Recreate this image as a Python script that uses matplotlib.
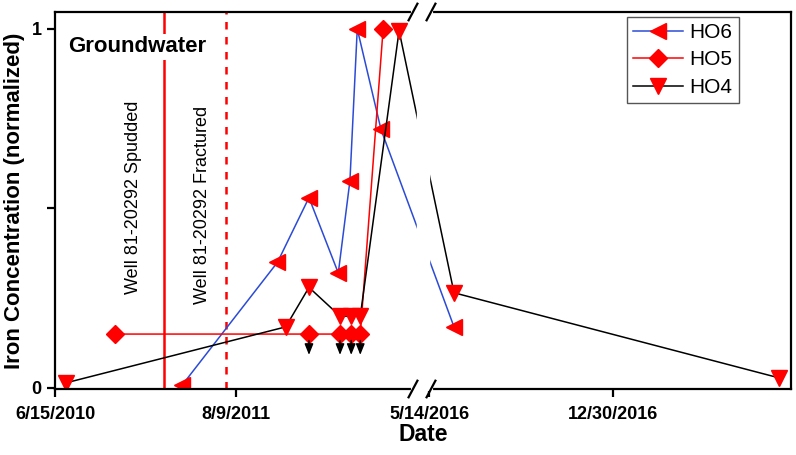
import numpy as np
import matplotlib
matplotlib.use('Agg')
import matplotlib.pyplot as plt
import matplotlib.dates as mdates
from matplotlib.ticker import FixedLocator, FixedFormatter

plt.rcParams['font.family'] = ['Liberation Sans', 'DejaVu Sans']

#%%
#------ Datos --------------------------
ho6_dates = ['2011-04-06', '2011-11-13', '2012-01-25', '2012-04-02', '2012-04-29',
             '2012-05-16', '2012-07-10', '2016-06-14']
ho6_vals  = [0.008, 0.35, 0.53, 0.32, 0.577, 1.0, 0.72, 0.17]

ho5_dates = ['2010-11-01', '2012-01-25', '2012-04-06', '2012-05-02', '2012-05-23', '2012-07-15']
ho5_vals  = [0.15, 0.15, 0.15, 0.15, 0.15, 1.0]
ho5_below = [False, True, True, True, True, False]   # bajo limite de deteccion

ho4_dates = ['2010-07-10', '2011-12-02', '2012-01-25', '2012-04-06', '2012-05-02',
             '2012-05-23', '2012-08-21', '2016-06-14', '2017-07-25']
ho4_vals  = [0.014, 0.17, 0.28, 0.20, 0.20, 0.20, 0.995, 0.265, 0.028]

spud_date = '2011-02-23'
frac_date = '2011-07-17'

tick_dates  = ['2010-06-15', '2011-08-09', '2016-05-14', '2016-12-30']
tick_labels = ['6/15/2010', '8/9/2011', '5/14/2016', '12/30/2016']

#%%
#------ Escala con corte en el eje x -------
def dnum(s):
    return mdates.date2num(np.datetime64(s))

x_start = dnum('2010-06-15')
x_end   = dnum('2017-08-09')
l_end   = dnum('2012-10-02')
r_start = dnum('2016-05-14')
s1 = 181 / 420
s2 = 184 / 230

kx = np.array([x_start - 5000, l_end, r_start, r_start + 5000])
ky = np.zeros(4)
ky[1] = 55 + (l_end - x_start) * s1
ky[0] = ky[1] - (l_end - kx[0]) * s1
ky[2] = ky[1] + 12
ky[3] = ky[2] + 5000 * s2

def fwd(x):
    return np.interp(x, kx, ky)

def inv(y):
    return np.interp(y, ky, kx)

#%%
fig = plt.figure(figsize=(7.96, 4.55), dpi=100)
ax = fig.add_axes([55 / 796, 1 - 389 / 455, 736 / 796, 377 / 455])
ax.set_xscale('function', functions=(fwd, inv))

red = '#ff0000'
ms = 11

ax.axvline(dnum(spud_date), color=red, lw=1.8, zorder=1)
ax.axvline(dnum(frac_date), color=red, lw=1.8, ls=(0, (3, 3)), zorder=1)

x6 = [dnum(d) for d in ho6_dates]
x5 = [dnum(d) for d in ho5_dates]
x4 = [dnum(d) for d in ho4_dates]

ax.plot(x6, ho6_vals, color='#2b4bd6', lw=1.1, marker='<', ms=ms, mfc=red, mec=red, label='HO6', zorder=2)
ax.plot(x5, ho5_vals, color=red, lw=1.1, marker='D', ms=9, mfc=red, mec=red, label='HO5', zorder=2)
ax.plot(x4, ho4_vals, color='black', lw=1.1, marker='v', ms=ms, mfc=red, mec=red, label='HO4', zorder=2)

for xd, v, b in zip(x5, ho5_vals, ho5_below):
    if b:
        ax.annotate('', xy=(xd, v - 0.058), xytext=(xd, v - 0.018),
                    arrowprops=dict(arrowstyle='-|>,head_length=0.55,head_width=0.22',
                                    color='black', lw=1, mutation_scale=12, shrinkA=0, shrinkB=0))

# franja del corte
ax.axvspan(l_end, r_start, color='white', zorder=2.2)
for sp in ax.spines.values():
    sp.set_linewidth(1.6)
    sp.set_zorder(3)

xb0 = (ky[1] - 55 - 4) / 736
xb1 = (ky[2] - 55 + 2) / 736
for yb in (0, 1):
    ax.plot([xb0, xb1], [yb, yb], transform=ax.transAxes, color='white', lw=3, clip_on=False, zorder=4)
    for xb in (xb0, xb1):
        ax.plot([xb - 0.006, xb + 0.006], [yb - 0.022, yb + 0.022], transform=ax.transAxes,
                color='black', lw=1.6, clip_on=False, zorder=5)

ax.set_xlim(x_start, x_end)
ax.set_ylim(-0.003, 1.047)

ax.xaxis.set_major_locator(FixedLocator([dnum(d) for d in tick_dates]))
ax.xaxis.set_major_formatter(FixedFormatter(tick_labels))
ax.xaxis.set_minor_locator(FixedLocator([]))
ax.set_yticks([0, 0.5, 1])
ax.set_yticklabels(['0', '', '1'])
ax.tick_params(direction='out', length=6, width=1.6, labelsize=13)
ax.tick_params(axis='x', pad=6)
for lab in ax.get_xticklabels() + ax.get_yticklabels():
    lab.set_fontweight('bold')

ax.set_xlabel('Date', fontsize=16.5, fontweight='bold', labelpad=0)
ax.set_ylabel('Iron Concentration (normalized)', fontsize=16, fontweight='bold', labelpad=5)

ax.text(13 / 736, (389 - 47) / 377, 'Groundwater', transform=ax.transAxes, fontsize=16,
        fontweight='bold', va='center', ha='left', zorder=3,
        bbox=dict(facecolor='white', edgecolor='none', pad=2))
ax.text(dnum('2011-02-23') - 70, 0.53, 'Well 81-20292 Spudded', rotation=90,
        fontsize=13, ha='center', va='center')
ax.text(dnum('2011-07-17') - 55, 0.51, 'Well 81-20292 Fractured', rotation=90,
        fontsize=13, ha='center', va='center')

leg = ax.legend(loc='upper right', bbox_to_anchor=(0.929, 0.987), fontsize=15,
                handlelength=2.4, borderpad=0.3, labelspacing=0.4, handletextpad=0.3,
                borderaxespad=0, fancybox=False, framealpha=1)
leg.get_frame().set_edgecolor('#555555')
leg.get_frame().set_linewidth(1)

fig.savefig('out.png', dpi=100)
